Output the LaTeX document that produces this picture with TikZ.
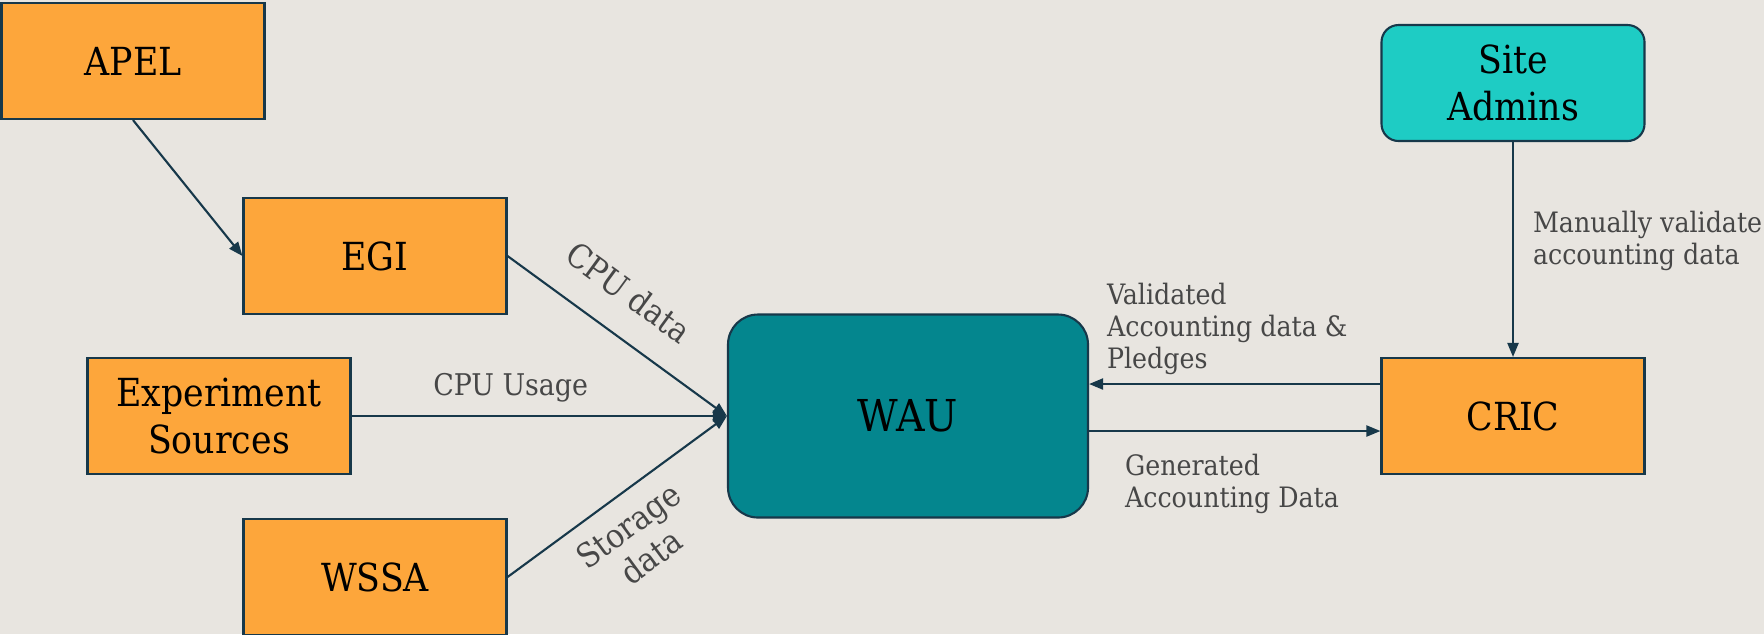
\documentclass[tikz,border=0pt]{standalone}
\usepackage{fontspec}
\setmainfont{DejaVu Serif Condensed}
\usetikzlibrary{arrows.meta}
\definecolor{bg}{HTML}{E8E5E0}
\definecolor{orng}{HTML}{FDA63B}
\definecolor{wauteal}{HTML}{04868E}
\definecolor{admincol}{HTML}{1ECCC4}
\definecolor{linecol}{HTML}{17384A}
\definecolor{lblcol}{HTML}{474747}

\begin{document}
\begin{tikzpicture}[
  box/.style={rectangle, draw=linecol, fill=orng, line width=0.6pt, minimum width=2.63cm, minimum height=1.16cm, align=center, font=\fontsize{11}{13.5}\selectfont},
  lbl/.style={text=lblcol, inner sep=0pt, align=left, font=\fontsize{8}{9.1}\selectfont},
  >={Triangle[length=1.4mm, width=1.1mm]}
]
\fill[bg] (0,0) rectangle (17.64,-6.34);
\useasboundingbox (0,0) rectangle (17.64,-6.34);

\node[box] (1) at (1.33,-0.61) {APEL};
\node[box] (2) at (3.75,-2.56) {EGI};
\node[box] (3) at (2.19,-4.16) {Experiment\\Sources};
\node[box] (4) at (3.75,-5.77) {WSSA};
\node[box, fill=wauteal, rounded corners=0.3cm, minimum width=3.6cm, minimum height=2.03cm, font=\fontsize{12.5}{15}\selectfont] (5) at (9.08,-4.16) {WAU};
\node[box, fill=admincol, rounded corners=0.17cm] (6) at (15.13,-0.83) {Site\\Admins};
\node[box] (7) at (15.13,-4.16) {CRIC};

\draw[->, linecol, line width=0.6pt] (1.south) -- (2.west);
\draw[->, linecol, line width=0.6pt] (2.east) --node[lbl, pos=.44, sloped, above=2.8mm, font=\fontsize{9.5}{11}\selectfont]{CPU data} (5.west);
\draw[->, linecol, line width=0.6pt] (3.east) --node[lbl, pos=.424, above=1.3mm, font=\fontsize{8.5}{10}\selectfont]{CPU Usage} (5.west);
\draw[->, linecol, line width=0.6pt] (4.east) --node[lbl, pos=.47, sloped, below=1.6mm, align=center, font=\fontsize{9.5}{11}\selectfont]{Storage\\data} (5.west);

\draw[->, linecol, line width=0.6pt] ([yshift=3.2mm]7.west) --node[lbl, pos=1, anchor=south west, xshift=1.7mm, yshift=0.8mm]{Validated\\Accounting data \&\\Pledges} ([yshift=3.2mm]5.east);
\draw[->, linecol, line width=0.6pt] ([yshift=-1.5mm]5.east) --node[lbl, pos=0, anchor=north west, xshift=3.5mm, yshift=-2.2mm]{Generated\\Accounting Data} ([yshift=-1.5mm]7.west);
\draw[->, linecol, line width=0.6pt] (6.south) --node[lbl, pos=.46, right=1.9mm]{Manually validate\\accounting data} (7.north);
\end{tikzpicture}
\end{document}
